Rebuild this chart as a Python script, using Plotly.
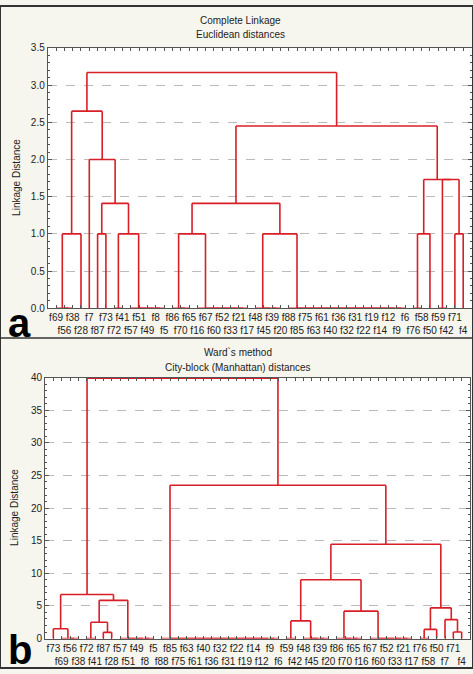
import plotly.graph_objects as go

# ---------------- data ----------------
title_a = ["Complete Linkage", "Euclidean distances"]
title_b = ["Ward`s method", "City-block (Manhattan) distances"]
y_title = "Linkage Distance"

leaves_a = ["f69", "f56", "f38", "f28", "f7", "f87", "f73", "f72", "f41", "f57",
            "f51", "f49", "f8", "f5", "f86", "f70", "f65", "f16", "f67", "f60",
            "f52", "f33", "f21", "f17", "f48", "f45", "f39", "f20", "f88", "f85",
            "f75", "f63", "f61", "f40", "f36", "f32", "f31", "f22", "f19", "f14",
            "f12", "f9", "f6", "f76", "f58", "f50", "f59", "f42", "f71", "f4"]

leaves_b = ["f73", "f69", "f56", "f38", "f72", "f41", "f87", "f28", "f57", "f51",
            "f49", "f8", "f5", "f88", "f85", "f75", "f63", "f61", "f40", "f36",
            "f32", "f31", "f22", "f19", "f14", "f12", "f9", "f6", "f59", "f42",
            "f48", "f45", "f39", "f20", "f86", "f70", "f65", "f16", "f67", "f60",
            "f52", "f33", "f21", "f17", "f76", "f58", "f50", "f7", "f71", "f4"]

# merges: (height, left, right); a plain list = objects joined at distance 0
tree_a = (3.17,
          (2.65,
           (1.0, ["f69", "f56", "f38"], "f28"),
           (2.0, "f7",
            (1.41,
             (1.0, "f87", "f73"),
             (1.0, ["f72", "f41"], ["f57", "f51", "f49", "f8", "f5"])))),
          (2.45,
           (1.41,
            (1.0, ["f86", "f70", "f65"],
             ["f16", "f67", "f60", "f52", "f33", "f21", "f17"]),
            (1.0, ["f48", "f45", "f39", "f20"],
             ["f88", "f85", "f75", "f63", "f61", "f40", "f36", "f32", "f31",
              "f22", "f19", "f14", "f12", "f9", "f6"])),
           (1.73,
            (1.0, ["f76", "f58"], "f50"),
            (1.73, ["f59", "f42"], (1.0, "f71", "f4")))))

tree_b = (39.9,
          (6.75,
           (1.5, "f73", ["f69", "f56", "f38"]),
           (5.85,
            (2.5, ["f72", "f41"], (0.95, "f87", "f28")),
            ["f57", "f51", "f49", "f8", "f5"])),
          (23.5,
           ["f88", "f85", "f75", "f63", "f61", "f40", "f36", "f32", "f31",
            "f22", "f19", "f14", "f12", "f9", "f6"],
           (14.45,
            (9.0,
             (2.7, ["f59", "f42"], ["f48", "f45", "f39", "f20"]),
             (4.2, ["f86", "f70", "f65", "f16"],
              ["f67", "f60", "f52", "f33", "f21", "f17"])),
            (4.7,
             (1.4, ["f76", "f58"], "f50"),
             (2.9, "f7", (1.0, "f71", "f4"))))))

y_step_a, y_max_a = 0.5, 3.5
y_step_b, y_max_b = 5, 40

# ---------------- layout of the tree ----------------
RED = "rgb(216,30,38)"


def build_segments(tree, leaves):
    pos_of = {lab: i + 1 for i, lab in enumerate(leaves)}
    xs, ys = [], []

    def seg(x0, y0, x1, y1):
        xs.extend([x0, x1, None])
        ys.extend([y0, y1, None])

    def place(node):
        if isinstance(node, str):
            return pos_of[node], 0.0
        if isinstance(node, list):
            p = pos_of[node[-1]]
            for lab in reversed(node[:-1]):
                k = pos_of[lab]
                seg(k, 0, p, 0)
                p = (k + p) / 2.0
            return p, 0.0
        h, left, right = node
        pl, hl = place(left)
        pr, hr = place(right)
        seg(pl, hl, pl, h)
        seg(pr, hr, pr, h)
        seg(pl, h, pr, h)
        return (pl + pr) / 2.0, h

    place(tree)
    return xs, ys


def tick_text(leaves):
    return [lab if i % 2 == 0 else "<br>" + lab for i, lab in enumerate(leaves)]


W, H = 473, 674
fig = go.Figure()

xa, ya = build_segments(tree_a, leaves_a)
xb, yb = build_segments(tree_b, leaves_b)
fig.add_trace(go.Scatter(x=xa, y=ya, mode="lines", xaxis="x", yaxis="y",
                         line=dict(color=RED, width=1.6), hoverinfo="skip",
                         showlegend=False))
fig.add_trace(go.Scatter(x=xb, y=yb, mode="lines", xaxis="x2", yaxis="y2",
                         line=dict(color=RED, width=1.6), hoverinfo="skip",
                         showlegend=False))

FONT = "Liberation Sans, Arial, sans-serif"
axis_common = dict(showline=True, linecolor="#555", linewidth=1, mirror="ticks",
                   ticks="inside", tickcolor="#555", zeroline=False,
                   tickfont=dict(family=FONT, size=10, color="#222"))

fig.update_layout(
    width=W, height=H,
    margin=dict(l=0, r=0, t=0, b=0),
    paper_bgcolor="#f7f6ee",
    plot_bgcolor="white",
    showlegend=False,
    xaxis=dict(domain=[47.75 / W, 471.5 / W], range=[0, 51], anchor="y",
               tickmode="array", tickvals=list(range(1, len(leaves_a) + 1)),
               ticktext=tick_text(leaves_a), ticklen=3, showgrid=False,
               tickangle=0, **axis_common),
    yaxis=dict(domain=[1 - 307.7 / H, 1 - 42.7 / H], range=[0, y_max_a],
               anchor="x", tickmode="linear", tick0=0, dtick=y_step_a,
               tickformat=".1f", ticklen=4,
               showgrid=True, gridcolor="#bbbbbb", griddash="dash", gridwidth=1,
               minor=dict(dtick=0.1, ticks="inside", ticklen=2, tickcolor="#555",
                          showgrid=False),
               **axis_common),
    xaxis2=dict(domain=[45 / W, 470 / W], range=[0, 51], anchor="y2",
                tickmode="array", tickvals=list(range(1, len(leaves_b) + 1)),
                ticktext=tick_text(leaves_b), ticklen=3, showgrid=False,
                tickangle=0, **axis_common),
    yaxis2=dict(domain=[1 - 644 / H, 1 - 378.3 / H], range=[0, y_max_b],
                anchor="x2", tickmode="linear", tick0=0, dtick=y_step_b,
                tickformat="d", ticklen=4,
                showgrid=True, gridcolor="#bbbbbb", griddash="dash", gridwidth=1,
                minor=dict(dtick=1, ticks="inside", ticklen=2, tickcolor="#555",
                           showgrid=False),
                **axis_common),
)

ann = []


def txt(x, y, s, size=10, **kw):
    ann.append(dict(x=x / W, y=1 - y / H, xref="paper", yref="paper", text=s,
                    showarrow=False, font=dict(family=FONT, size=size,
                                               color=kw.pop("color", "#222")),
                    xanchor=kw.pop("xanchor", "center"),
                    yanchor=kw.pop("yanchor", "middle"), **kw))


txt(240, 15, title_a[0])
txt(240, 29, title_a[1])
txt(238, 353, title_b[0])
txt(238, 368, title_b[1])
txt(17, 175, y_title, textangle=-90)
txt(15, 511, y_title, textangle=-90)
txt(19, 323, "<b>a</b>", size=40, color="black")
txt(20, 656, "<b>b</b>", size=40, color="black")
fig.update_layout(annotations=ann)

fig.update_layout(shapes=[
    dict(type="rect", xref="paper", yref="paper", x0=0, y0=0, x1=1, y1=1,
         line=dict(color="#333", width=2), fillcolor="rgba(0,0,0,0)"),
    dict(type="line", xref="paper", yref="paper", x0=0, x1=1,
         y0=1 - 338 / H, y1=1 - 338 / H, line=dict(color="#333", width=1.5)),
])

fig.write_html("out.html",
               config={"displayModeBar": False},
               post_script="document.body.style.margin='0px';"
                           "document.body.style.overflow='hidden';")
